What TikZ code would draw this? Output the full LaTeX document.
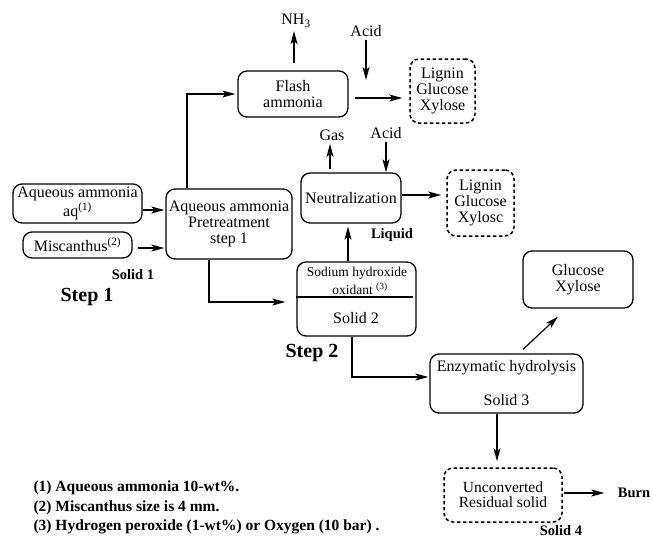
\documentclass[tikz,border=0pt]{standalone}
\usepackage{fontspec}
\setmainfont{Liberation Serif}
\usetikzlibrary{arrows.meta,calc}
\begin{document}
\begin{tikzpicture}[x=1pt,y=-1pt,
  box/.style={draw,line width=1.3pt,rounded corners=9pt,align=center,inner sep=0pt},
  dbox/.style={box,dash pattern=on 3.5pt off 2.5pt,line width=1.5pt},
  sz/.style 2 args={minimum width=#1pt,minimum height=#2pt},
  arr/.style={line width=1.2pt,-{Stealth[length=13pt,width=7pt,inset=3pt]}},
  txt/.style={font=\fontsize{16}{16}\selectfont},
  small/.style={font=\fontsize{13.5}{15}\selectfont},
  lbl/.style={font=\bfseries\fontsize{14.5}{16}\selectfont},
  stp/.style={font=\bfseries\fontsize{20}{22}\selectfont},
  note/.style={font=\bfseries\fontsize{15.5}{19.5}\selectfont,align=left,anchor=west},
]
\useasboundingbox (0,0) rectangle (652,538);

% nodes
\node[box,txt,sz={110}{46}] (flash) at (293,94) {Flash\\ammonia};
\node[txt] (nh3) at (296,21) {NH\textsubscript{3}};
\node[txt] (acid1) at (366,31) {Acid};
\coordinate (a1end) at (366,80);
\node[dbox,txt,sz={65}{64}] (dash1) at (442.5,91) {Lignin\\Glucose\\Xylose};

\node[box,txt,sz={129}{39}] (aq) at (77.5,203.5) {Aqueous ammonia\\aq\textsuperscript{(1)}};
\node[box,txt,sz={109}{26}] (misc) at (77.5,245) {Miscanthus\textsuperscript{(2)}};
\node[box,txt,sz={126}{70}] (pre) at (229,224) {Aqueous ammonia\\Pretreatment\\step 1};
\node[lbl] (solid1) at (133,275) {Solid 1};
\node[stp] (step1) at (87,297) {Step 1};

\node[box,txt,sz={100}{50}] (neut) at (351,198) {Neutralization};
\node[txt] (gas) at (332,135) {Gas};
\node[txt] (acid2) at (386,133) {Acid};
\node[dbox,txt,sz={67}{66}] (dash2) at (480.5,203) {Lignin\\Glucose\\Xylosc};
\node[lbl] (liquid) at (392,235) {Liquid};

\node[box,sz={119}{74}] (sod) at (356.5,299) {};
\node[small] (sodt) at (357,273) {Sodium hydroxide};
\node[small] (oxt) at (360,289) {oxidant \textsuperscript{(3)}};
\node[txt] (sol2) at (356,318) {Solid 2};
\node[stp] (step2) at (312,353) {Step 2};

\node[box,txt,sz={110}{57}] (glu) at (578,279.5) {Glucose\\Xylose};
\node[box,txt,sz={153}{59}] (enz) at (506.5,383.5) {Enzymatic hydrolysis\\[18pt]Solid 3};
\node[dbox,font=\fontsize{15.5}{15}\selectfont,sz={118}{54}] (unc) at (503,495) {Unconverted\\Residual solid};
\node[lbl] (burn) at (634,493) {Burn};
\node[lbl] (solid4) at (561,531) {Solid 4};

\node[note] (n1) at (30,488) {(1) Aqueous ammonia 10-wt\%.};
\node[note] (n2) at (30,508) {(2) Miscanthus size is 4 mm.};
\node[note] (n3) at (30,527) {(3) Hydrogen peroxide (1-wt\%) or Oxygen (10 bar) .};

% inner divider of the sodium box
\draw[line width=1.2pt] (sod.west |- 0,297) -- (413,297);

% connectors
\draw[arr,shorten <=7pt] (294,0 |- flash.north) -- (294,0 |- nh3.south);
\draw[arr] (acid1.south) -- (a1end);
\draw[arr,shorten <=6pt,shorten >=7pt] (flash.east |- 0,98) -- (dash1.west |- 0,98);

\draw[arr,shorten >=1pt] (aq.east |- 0,210) -- (pre.west |- 0,210);
\draw[arr,shorten <=5pt,shorten >=1pt] (misc.east |- 0,248) -- (pre.west |- 0,248);
\draw[arr,shorten >=2pt] (187,0 |- pre.north) |- (flash.west);
\draw[arr,shorten >=11pt] (209,0 |- pre.south) |- (sod.west |- 0,302);

\draw[arr,shorten >=3pt] (348,0 |- sod.north) -- (348,0 |- neut.south);
\draw[arr,shorten <=3pt] (330,0 |- neut.north) -- (330,0 |- gas.south);
\draw[arr] (acid2.south) -- (acid2.south |- neut.north);
\draw[arr,shorten >=5pt] (neut.east |- 0,195) -- (dash2.west |- 0,195);

\draw[arr,shorten >=1pt] (352,0 |- sod.south) |- (enz.west |- 0,377);
\draw[arr] ([shift={(16.5pt,4pt)}]enz.north) -- ([shift={(-20pt,-8pt)}]glu.south);
\draw[arr,shorten >=6pt] (497,0 |- enz.south) -- (497,0 |- unc.north);
\draw[arr,shorten <=1pt,shorten >=10pt] (unc.east |- 0,493) -- (burn.west);
\end{tikzpicture}
\end{document}
